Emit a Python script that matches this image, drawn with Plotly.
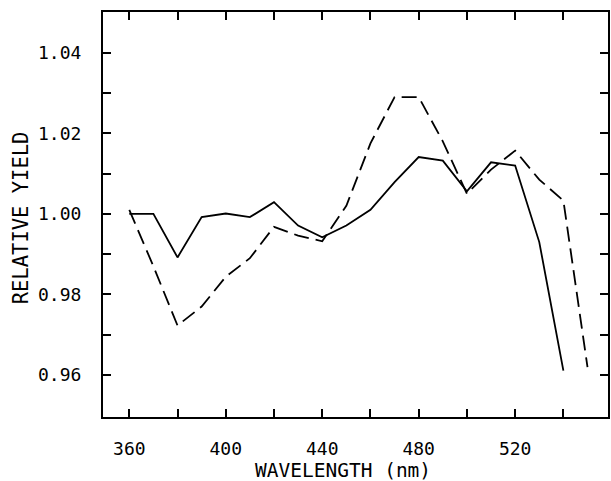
import plotly.graph_objects as go

wavelength_solid = [360, 370, 380, 390, 400, 410, 420, 430, 440, 450,
                    460, 470, 480, 490, 500, 510, 520, 530, 540]
yield_solid = [1.000, 1.000, 0.9892, 0.9992, 1.0001, 0.9992, 1.0029, 0.9971, 0.9942, 0.9971,
               1.0010, 1.0079, 1.0141, 1.0132, 1.0056, 1.0128, 1.0120, 0.9930, 0.9611]

wavelength_dashed = [360, 370, 380, 390, 400, 410, 420, 430, 440, 450,
                     460, 470, 480, 490, 500, 510, 520, 530, 540, 550]
yield_dashed = [1.001, 0.987, 0.9723, 0.977, 0.9844, 0.989, 0.9968, 0.9946, 0.9932, 1.002,
                1.0175, 1.029, 1.029, 1.018, 1.005, 1.011, 1.0157, 1.0085, 1.0033, 0.962]

x_tickvals = [360, 380, 400, 420, 440, 460, 480, 500, 520, 540]
x_ticktext = ["360", "", "400", "", "440", "", "480", "", "520", ""]
y_tickvals = [0.96, 0.97, 0.98, 0.99, 1.00, 1.01, 1.02, 1.03, 1.04]
y_ticktext = ["0.96", "", "0.98", "", "1.00", "", "1.02", "", "1.04"]

FONT = "DejaVu Sans Mono"

fig = go.Figure()
fig.add_trace(go.Scatter(x=wavelength_solid, y=yield_solid, mode="lines",
                         line=dict(color="black", width=1.8), showlegend=False))
fig.add_trace(go.Scatter(x=wavelength_dashed, y=yield_dashed, mode="lines",
                         line=dict(color="black", width=1.8, dash="15px,7px"), showlegend=False))

axis_common = dict(showgrid=False, zeroline=False, showline=True, linecolor="black", linewidth=2,
                   mirror="ticks", ticks="inside", ticklen=8, tickwidth=2, tickcolor="black",
                   tickfont=dict(family=FONT, size=18, color="black"))

fig.update_xaxes(range=[349.1, 558.5], tickmode="array", tickvals=x_tickvals, ticktext=x_ticktext,
                 ticklabelstandoff=14, **axis_common)
fig.update_yaxes(range=[0.9496, 1.0501], tickmode="array", tickvals=y_tickvals, ticktext=y_ticktext,
                 ticklabelstandoff=16, **axis_common)

fig.add_annotation(text="WAVELENGTH (nm)", xref="paper", yref="paper", x=0.475, y=-0.132,
                   xanchor="center", yanchor="middle", showarrow=False,
                   font=dict(family=FONT, size=19.5, color="black"))
fig.add_annotation(text="RELATIVE YIELD", xref="paper", yref="paper", x=-0.162, y=0.491,
                   xanchor="center", yanchor="middle", showarrow=False, textangle=-90,
                   font=dict(family=FONT, size=20.5, color="black"))

fig.update_layout(width=611, height=481, margin=dict(l=103, r=1, t=12, b=64),
                  paper_bgcolor="white", plot_bgcolor="white")

fig.write_html("out.html")
